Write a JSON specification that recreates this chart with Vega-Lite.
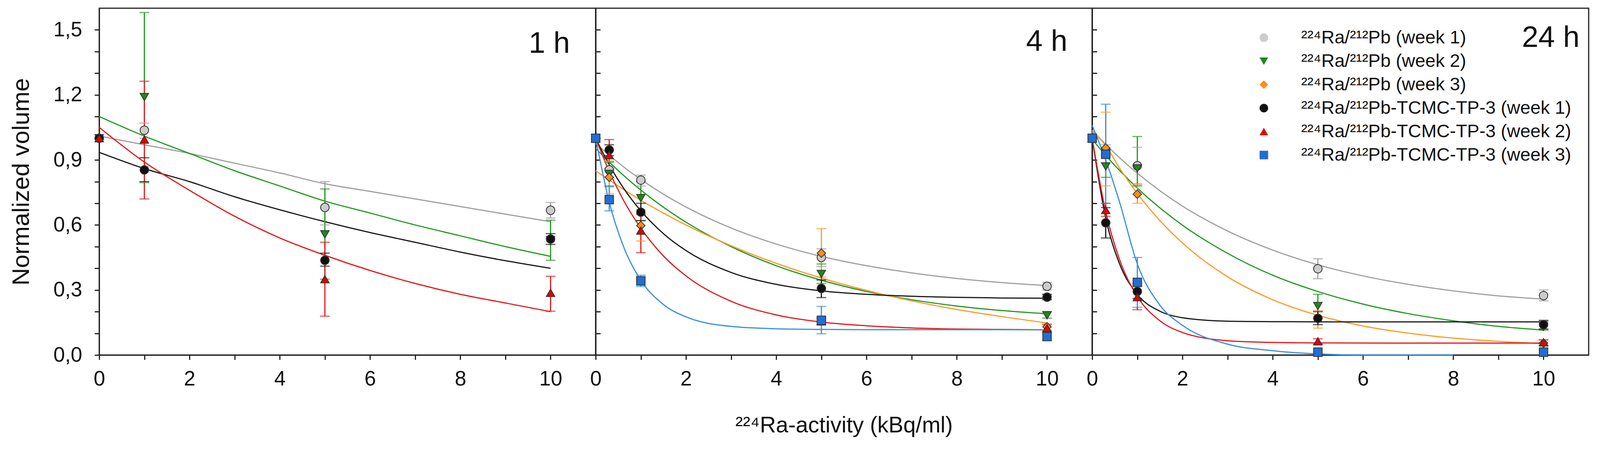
{
  "$schema": "https://vega.github.io/schema/vega-lite/v6.json",
  "description": "Normalized volume vs 224Ra activity at 1 h, 4 h and 24 h",
  "background": "white",
  "padding": {"left": 21, "top": 19, "right": 5, "bottom": 5},
  "config": {
    "font": "Liberation Sans",
    "view": {"stroke": "#222", "strokeWidth": 3},
    "axis": {
      "grid": false,
      "domainColor": "#222",
      "domainWidth": 3,
      "tickColor": "#222",
      "tickWidth": 3,
      "labelFont": "Liberation Sans",
      "labelFontSize": 53,
      "labelColor": "#111",
      "labelFlush": false,
      "labelOverlap": false,
      "titleFont": "Liberation Sans",
      "titleFontWeight": "normal",
      "titleColor": "#111"
    }
  },
  "datasets": {
    "pts": [
      {"p": "1h", "s": "P1", "x": 0, "y": 1.0},
      {"p": "1h", "s": "P1", "x": 1, "y": 1.037, "lo": 1.0, "hi": 1.07},
      {"p": "1h", "s": "P1", "x": 5, "y": 0.681, "lo": 0.6, "hi": 0.8},
      {"p": "1h", "s": "P1", "x": 10, "y": 0.668, "lo": 0.632, "hi": 0.704},
      {"p": "1h", "s": "P2", "x": 0, "y": 1.0},
      {"p": "1h", "s": "P2", "x": 1, "y": 1.19, "lo": 0.795, "hi": 1.58},
      {"p": "1h", "s": "P2", "x": 5, "y": 0.557, "lo": 0.35, "hi": 0.766},
      {"p": "1h", "s": "P2", "x": 10, "y": 0.53, "lo": 0.437, "hi": 0.622},
      {"p": "1h", "s": "T1", "x": 0, "y": 1.0},
      {"p": "1h", "s": "T1", "x": 1, "y": 0.854, "lo": 0.8, "hi": 0.91},
      {"p": "1h", "s": "T1", "x": 5, "y": 0.437, "lo": 0.41, "hi": 0.47},
      {"p": "1h", "s": "T1", "x": 10, "y": 0.535, "lo": 0.51, "hi": 0.56},
      {"p": "1h", "s": "T2", "x": 0, "y": 1.0},
      {"p": "1h", "s": "T2", "x": 1, "y": 0.994, "lo": 0.72, "hi": 1.263},
      {"p": "1h", "s": "T2", "x": 5, "y": 0.35, "lo": 0.179, "hi": 0.52},
      {"p": "1h", "s": "T2", "x": 10, "y": 0.287, "lo": 0.202, "hi": 0.363},

      {"p": "4h", "s": "P1", "x": 0, "y": 1.0},
      {"p": "4h", "s": "P1", "x": 0.3, "y": 0.854, "lo": 0.82, "hi": 0.89},
      {"p": "4h", "s": "P1", "x": 1, "y": 0.807, "lo": 0.78, "hi": 0.83},
      {"p": "4h", "s": "P1", "x": 5, "y": 0.45, "lo": 0.408, "hi": 0.49},
      {"p": "4h", "s": "P1", "x": 10, "y": 0.317, "lo": 0.3, "hi": 0.335},
      {"p": "4h", "s": "P2", "x": 0, "y": 1.0},
      {"p": "4h", "s": "P2", "x": 0.3, "y": 0.835, "lo": 0.78, "hi": 0.89},
      {"p": "4h", "s": "P2", "x": 1, "y": 0.724, "lo": 0.62, "hi": 0.8},
      {"p": "4h", "s": "P2", "x": 5, "y": 0.374, "lo": 0.33, "hi": 0.42},
      {"p": "4h", "s": "P2", "x": 10, "y": 0.183, "lo": 0.17, "hi": 0.2},
      {"p": "4h", "s": "P3", "x": 0, "y": 1.0},
      {"p": "4h", "s": "P3", "x": 0.3, "y": 0.82, "lo": 0.745, "hi": 0.895},
      {"p": "4h", "s": "P3", "x": 1, "y": 0.597, "lo": 0.526, "hi": 0.67},
      {"p": "4h", "s": "P3", "x": 5, "y": 0.47, "lo": 0.36, "hi": 0.583},
      {"p": "4h", "s": "P3", "x": 10, "y": 0.13, "lo": 0.115, "hi": 0.145},
      {"p": "4h", "s": "T1", "x": 0, "y": 1.0},
      {"p": "4h", "s": "T1", "x": 0.3, "y": 0.946, "lo": 0.92, "hi": 0.97},
      {"p": "4h", "s": "T1", "x": 1, "y": 0.659, "lo": 0.62, "hi": 0.7},
      {"p": "4h", "s": "T1", "x": 5, "y": 0.307, "lo": 0.265, "hi": 0.346},
      {"p": "4h", "s": "T1", "x": 10, "y": 0.267, "lo": 0.255, "hi": 0.28},
      {"p": "4h", "s": "T2", "x": 0, "y": 1.0},
      {"p": "4h", "s": "T2", "x": 0.3, "y": 0.922, "lo": 0.86, "hi": 0.994},
      {"p": "4h", "s": "T2", "x": 1, "y": 0.574, "lo": 0.472, "hi": 0.65},
      {"p": "4h", "s": "T2", "x": 5, "y": 0.155, "lo": 0.14, "hi": 0.17},
      {"p": "4h", "s": "T2", "x": 10, "y": 0.124, "lo": 0.11, "hi": 0.14},
      {"p": "4h", "s": "T3", "x": 0, "y": 1.0},
      {"p": "4h", "s": "T3", "x": 0.3, "y": 0.717, "lo": 0.665, "hi": 0.776},
      {"p": "4h", "s": "T3", "x": 1, "y": 0.342, "lo": 0.316, "hi": 0.368},
      {"p": "4h", "s": "T3", "x": 5, "y": 0.16, "lo": 0.098, "hi": 0.224},
      {"p": "4h", "s": "T3", "x": 10, "y": 0.085, "lo": 0.07, "hi": 0.1},

      {"p": "24h", "s": "P1", "x": 0, "y": 1.0},
      {"p": "24h", "s": "P1", "x": 0.3, "y": 0.945, "lo": 0.92, "hi": 0.97},
      {"p": "24h", "s": "P1", "x": 1, "y": 0.873, "lo": 0.79, "hi": 0.958},
      {"p": "24h", "s": "P1", "x": 5, "y": 0.398, "lo": 0.352, "hi": 0.444},
      {"p": "24h", "s": "P1", "x": 10, "y": 0.274, "lo": 0.25, "hi": 0.3},
      {"p": "24h", "s": "P2", "x": 0, "y": 1.0},
      {"p": "24h", "s": "P2", "x": 0.3, "y": 0.87, "lo": 0.82, "hi": 0.92},
      {"p": "24h", "s": "P2", "x": 1, "y": 0.861, "lo": 0.78, "hi": 1.008},
      {"p": "24h", "s": "P2", "x": 5, "y": 0.226, "lo": 0.17, "hi": 0.28},
      {"p": "24h", "s": "P2", "x": 10, "y": 0.13, "lo": 0.115, "hi": 0.155},
      {"p": "24h", "s": "P3", "x": 0, "y": 1.0},
      {"p": "24h", "s": "P3", "x": 0.3, "y": 0.955, "lo": 0.78, "hi": 1.12},
      {"p": "24h", "s": "P3", "x": 1, "y": 0.742, "lo": 0.7, "hi": 0.785},
      {"p": "24h", "s": "P3", "x": 5, "y": 0.17, "lo": 0.124, "hi": 0.205},
      {"p": "24h", "s": "P3", "x": 10, "y": 0.055, "lo": 0.04, "hi": 0.07},
      {"p": "24h", "s": "T1", "x": 0, "y": 1.0},
      {"p": "24h", "s": "T1", "x": 0.3, "y": 0.61, "lo": 0.54, "hi": 0.68},
      {"p": "24h", "s": "T1", "x": 1, "y": 0.293, "lo": 0.26, "hi": 0.33},
      {"p": "24h", "s": "T1", "x": 5, "y": 0.169, "lo": 0.14, "hi": 0.2},
      {"p": "24h", "s": "T1", "x": 10, "y": 0.14, "lo": 0.12, "hi": 0.16},
      {"p": "24h", "s": "T2", "x": 0, "y": 1.0},
      {"p": "24h", "s": "T2", "x": 0.3, "y": 0.669, "lo": 0.64, "hi": 0.7},
      {"p": "24h", "s": "T2", "x": 1, "y": 0.267, "lo": 0.209, "hi": 0.32},
      {"p": "24h", "s": "T2", "x": 5, "y": 0.063, "lo": 0.05, "hi": 0.075},
      {"p": "24h", "s": "T2", "x": 10, "y": 0.059, "lo": 0.045, "hi": 0.07},
      {"p": "24h", "s": "T3", "x": 0, "y": 1.0},
      {"p": "24h", "s": "T3", "x": 0.3, "y": 0.926, "lo": 0.7, "hi": 1.157},
      {"p": "24h", "s": "T3", "x": 1, "y": 0.335, "lo": 0.22, "hi": 0.45},
      {"p": "24h", "s": "T3", "x": 5, "y": 0.013},
      {"p": "24h", "s": "T3", "x": 10, "y": 0.013}
    ],
    "fit": [
      {"p": "1h", "s": "P1", "x": 0, "y": 1.01}, {"p": "1h", "s": "P1", "x": 1, "y": 0.97}, {"p": "1h", "s": "P1", "x": 2, "y": 0.93}, {"p": "1h", "s": "P1", "x": 3, "y": 0.885}, {"p": "1h", "s": "P1", "x": 4, "y": 0.84}, {"p": "1h", "s": "P1", "x": 5, "y": 0.79}, {"p": "1h", "s": "P1", "x": 6, "y": 0.755}, {"p": "1h", "s": "P1", "x": 7, "y": 0.72}, {"p": "1h", "s": "P1", "x": 8, "y": 0.685}, {"p": "1h", "s": "P1", "x": 9, "y": 0.65}, {"p": "1h", "s": "P1", "x": 10, "y": 0.615},
      {"p": "1h", "s": "P2", "x": 0, "y": 1.1}, {"p": "1h", "s": "P2", "x": 1, "y": 1.01}, {"p": "1h", "s": "P2", "x": 2, "y": 0.93}, {"p": "1h", "s": "P2", "x": 3, "y": 0.85}, {"p": "1h", "s": "P2", "x": 4, "y": 0.78}, {"p": "1h", "s": "P2", "x": 5, "y": 0.71}, {"p": "1h", "s": "P2", "x": 6, "y": 0.655}, {"p": "1h", "s": "P2", "x": 7, "y": 0.6}, {"p": "1h", "s": "P2", "x": 8, "y": 0.55}, {"p": "1h", "s": "P2", "x": 9, "y": 0.5}, {"p": "1h", "s": "P2", "x": 10, "y": 0.455},
      {"p": "1h", "s": "T1", "x": 0, "y": 0.935}, {"p": "1h", "s": "T1", "x": 1, "y": 0.86}, {"p": "1h", "s": "T1", "x": 2, "y": 0.8}, {"p": "1h", "s": "T1", "x": 3, "y": 0.73}, {"p": "1h", "s": "T1", "x": 4, "y": 0.67}, {"p": "1h", "s": "T1", "x": 5, "y": 0.615}, {"p": "1h", "s": "T1", "x": 6, "y": 0.565}, {"p": "1h", "s": "T1", "x": 7, "y": 0.52}, {"p": "1h", "s": "T1", "x": 8, "y": 0.475}, {"p": "1h", "s": "T1", "x": 9, "y": 0.435}, {"p": "1h", "s": "T1", "x": 10, "y": 0.4},
      {"p": "1h", "s": "T2", "x": 0, "y": 1.05}, {"p": "1h", "s": "T2", "x": 1, "y": 0.89}, {"p": "1h", "s": "T2", "x": 2, "y": 0.76}, {"p": "1h", "s": "T2", "x": 3, "y": 0.64}, {"p": "1h", "s": "T2", "x": 4, "y": 0.54}, {"p": "1h", "s": "T2", "x": 5, "y": 0.46}, {"p": "1h", "s": "T2", "x": 6, "y": 0.39}, {"p": "1h", "s": "T2", "x": 7, "y": 0.33}, {"p": "1h", "s": "T2", "x": 8, "y": 0.28}, {"p": "1h", "s": "T2", "x": 9, "y": 0.24}, {"p": "1h", "s": "T2", "x": 10, "y": 0.2},

      {"p": "4h", "s": "P1", "x": 0, "y": 0.976}, {"p": "4h", "s": "P1", "x": 0.3, "y": 0.922}, {"p": "4h", "s": "P1", "x": 0.6, "y": 0.871}, {"p": "4h", "s": "P1", "x": 1, "y": 0.81}, {"p": "4h", "s": "P1", "x": 1.5, "y": 0.742}, {"p": "4h", "s": "P1", "x": 2, "y": 0.683}, {"p": "4h", "s": "P1", "x": 3, "y": 0.586}, {"p": "4h", "s": "P1", "x": 4, "y": 0.512}, {"p": "4h", "s": "P1", "x": 5, "y": 0.455}, {"p": "4h", "s": "P1", "x": 6, "y": 0.412}, {"p": "4h", "s": "P1", "x": 7, "y": 0.379}, {"p": "4h", "s": "P1", "x": 8, "y": 0.353}, {"p": "4h", "s": "P1", "x": 9, "y": 0.334}, {"p": "4h", "s": "P1", "x": 10, "y": 0.32},
      {"p": "4h", "s": "P2", "x": 0, "y": 0.953}, {"p": "4h", "s": "P2", "x": 0.3, "y": 0.89}, {"p": "4h", "s": "P2", "x": 0.6, "y": 0.832}, {"p": "4h", "s": "P2", "x": 1, "y": 0.761}, {"p": "4h", "s": "P2", "x": 1.5, "y": 0.682}, {"p": "4h", "s": "P2", "x": 2, "y": 0.613}, {"p": "4h", "s": "P2", "x": 3, "y": 0.5}, {"p": "4h", "s": "P2", "x": 4, "y": 0.412}, {"p": "4h", "s": "P2", "x": 5, "y": 0.345}, {"p": "4h", "s": "P2", "x": 6, "y": 0.293}, {"p": "4h", "s": "P2", "x": 7, "y": 0.255}, {"p": "4h", "s": "P2", "x": 8, "y": 0.226}, {"p": "4h", "s": "P2", "x": 9, "y": 0.205}, {"p": "4h", "s": "P2", "x": 10, "y": 0.19},
      {"p": "4h", "s": "P3", "x": 0, "y": 0.85}, {"p": "4h", "s": "P3", "x": 0.3, "y": 0.807}, {"p": "4h", "s": "P3", "x": 0.6, "y": 0.766}, {"p": "4h", "s": "P3", "x": 1, "y": 0.714}, {"p": "4h", "s": "P3", "x": 1.5, "y": 0.655}, {"p": "4h", "s": "P3", "x": 2, "y": 0.6}, {"p": "4h", "s": "P3", "x": 3, "y": 0.504}, {"p": "4h", "s": "P3", "x": 4, "y": 0.423}, {"p": "4h", "s": "P3", "x": 5, "y": 0.355}, {"p": "4h", "s": "P3", "x": 6, "y": 0.298}, {"p": "4h", "s": "P3", "x": 7, "y": 0.25}, {"p": "4h", "s": "P3", "x": 8, "y": 0.21}, {"p": "4h", "s": "P3", "x": 9, "y": 0.177}, {"p": "4h", "s": "P3", "x": 10, "y": 0.148},
      {"p": "4h", "s": "T1", "x": 0, "y": 1.0}, {"p": "4h", "s": "T1", "x": 0.3, "y": 0.877}, {"p": "4h", "s": "T1", "x": 0.6, "y": 0.775}, {"p": "4h", "s": "T1", "x": 1, "y": 0.665}, {"p": "4h", "s": "T1", "x": 1.5, "y": 0.56}, {"p": "4h", "s": "T1", "x": 2, "y": 0.482}, {"p": "4h", "s": "T1", "x": 3, "y": 0.381}, {"p": "4h", "s": "T1", "x": 4, "y": 0.326}, {"p": "4h", "s": "T1", "x": 5, "y": 0.296}, {"p": "4h", "s": "T1", "x": 6, "y": 0.28}, {"p": "4h", "s": "T1", "x": 7, "y": 0.271}, {"p": "4h", "s": "T1", "x": 8, "y": 0.266}, {"p": "4h", "s": "T1", "x": 9, "y": 0.263}, {"p": "4h", "s": "T1", "x": 10, "y": 0.262},
      {"p": "4h", "s": "T2", "x": 0, "y": 1.0}, {"p": "4h", "s": "T2", "x": 0.3, "y": 0.847}, {"p": "4h", "s": "T2", "x": 0.6, "y": 0.72}, {"p": "4h", "s": "T2", "x": 1, "y": 0.585}, {"p": "4h", "s": "T2", "x": 1.5, "y": 0.457}, {"p": "4h", "s": "T2", "x": 2, "y": 0.365}, {"p": "4h", "s": "T2", "x": 3, "y": 0.248}, {"p": "4h", "s": "T2", "x": 4, "y": 0.185}, {"p": "4h", "s": "T2", "x": 5, "y": 0.152}, {"p": "4h", "s": "T2", "x": 6, "y": 0.135}, {"p": "4h", "s": "T2", "x": 7, "y": 0.125}, {"p": "4h", "s": "T2", "x": 8, "y": 0.12}, {"p": "4h", "s": "T2", "x": 9, "y": 0.118}, {"p": "4h", "s": "T2", "x": 10, "y": 0.116},
      {"p": "4h", "s": "T3", "x": 0, "y": 1.0}, {"p": "4h", "s": "T3", "x": 0.3, "y": 0.705}, {"p": "4h", "s": "T3", "x": 0.6, "y": 0.509}, {"p": "4h", "s": "T3", "x": 1, "y": 0.345}, {"p": "4h", "s": "T3", "x": 1.5, "y": 0.233}, {"p": "4h", "s": "T3", "x": 2, "y": 0.176}, {"p": "4h", "s": "T3", "x": 3, "y": 0.132}, {"p": "4h", "s": "T3", "x": 4, "y": 0.121}, {"p": "4h", "s": "T3", "x": 5, "y": 0.118}, {"p": "4h", "s": "T3", "x": 6, "y": 0.117}, {"p": "4h", "s": "T3", "x": 8, "y": 0.117}, {"p": "4h", "s": "T3", "x": 10, "y": 0.117},

      {"p": "24h", "s": "P1", "x": 0, "y": 1.037}, {"p": "24h", "s": "P1", "x": 0.3, "y": 0.972}, {"p": "24h", "s": "P1", "x": 0.6, "y": 0.911}, {"p": "24h", "s": "P1", "x": 1, "y": 0.839}, {"p": "24h", "s": "P1", "x": 1.5, "y": 0.758}, {"p": "24h", "s": "P1", "x": 2, "y": 0.687}, {"p": "24h", "s": "P1", "x": 3, "y": 0.572}, {"p": "24h", "s": "P1", "x": 4, "y": 0.484}, {"p": "24h", "s": "P1", "x": 5, "y": 0.416}, {"p": "24h", "s": "P1", "x": 6, "y": 0.365}, {"p": "24h", "s": "P1", "x": 7, "y": 0.326}, {"p": "24h", "s": "P1", "x": 8, "y": 0.296}, {"p": "24h", "s": "P1", "x": 9, "y": 0.273}, {"p": "24h", "s": "P1", "x": 10, "y": 0.258},
      {"p": "24h", "s": "P2", "x": 0, "y": 0.995}, {"p": "24h", "s": "P2", "x": 0.3, "y": 0.921}, {"p": "24h", "s": "P2", "x": 0.6, "y": 0.853}, {"p": "24h", "s": "P2", "x": 1, "y": 0.77}, {"p": "24h", "s": "P2", "x": 1.5, "y": 0.679}, {"p": "24h", "s": "P2", "x": 2, "y": 0.599}, {"p": "24h", "s": "P2", "x": 3, "y": 0.469}, {"p": "24h", "s": "P2", "x": 4, "y": 0.368}, {"p": "24h", "s": "P2", "x": 5, "y": 0.293}, {"p": "24h", "s": "P2", "x": 6, "y": 0.235}, {"p": "24h", "s": "P2", "x": 7, "y": 0.191}, {"p": "24h", "s": "P2", "x": 8, "y": 0.158}, {"p": "24h", "s": "P2", "x": 9, "y": 0.132}, {"p": "24h", "s": "P2", "x": 10, "y": 0.115},
      {"p": "24h", "s": "P3", "x": 0, "y": 1.03}, {"p": "24h", "s": "P3", "x": 0.3, "y": 0.966}, {"p": "24h", "s": "P3", "x": 0.6, "y": 0.864}, {"p": "24h", "s": "P3", "x": 1, "y": 0.745}, {"p": "24h", "s": "P3", "x": 1.5, "y": 0.62}, {"p": "24h", "s": "P3", "x": 2, "y": 0.517}, {"p": "24h", "s": "P3", "x": 3, "y": 0.361}, {"p": "24h", "s": "P3", "x": 4, "y": 0.255}, {"p": "24h", "s": "P3", "x": 5, "y": 0.183}, {"p": "24h", "s": "P3", "x": 6, "y": 0.134}, {"p": "24h", "s": "P3", "x": 7, "y": 0.101}, {"p": "24h", "s": "P3", "x": 8, "y": 0.078}, {"p": "24h", "s": "P3", "x": 9, "y": 0.063}, {"p": "24h", "s": "P3", "x": 10, "y": 0.052},
      {"p": "24h", "s": "T1", "x": 0, "y": 1.0}, {"p": "24h", "s": "T1", "x": 0.3, "y": 0.632}, {"p": "24h", "s": "T1", "x": 0.6, "y": 0.424}, {"p": "24h", "s": "T1", "x": 1, "y": 0.28}, {"p": "24h", "s": "T1", "x": 1.5, "y": 0.202}, {"p": "24h", "s": "T1", "x": 2, "y": 0.172}, {"p": "24h", "s": "T1", "x": 3, "y": 0.156}, {"p": "24h", "s": "T1", "x": 4, "y": 0.154}, {"p": "24h", "s": "T1", "x": 5, "y": 0.153}, {"p": "24h", "s": "T1", "x": 7, "y": 0.153}, {"p": "24h", "s": "T1", "x": 10, "y": 0.153},
      {"p": "24h", "s": "T2", "x": 0, "y": 1.0}, {"p": "24h", "s": "T2", "x": 0.3, "y": 0.661}, {"p": "24h", "s": "T2", "x": 0.6, "y": 0.444}, {"p": "24h", "s": "T2", "x": 1, "y": 0.27}, {"p": "24h", "s": "T2", "x": 1.5, "y": 0.158}, {"p": "24h", "s": "T2", "x": 2, "y": 0.104}, {"p": "24h", "s": "T2", "x": 3, "y": 0.066}, {"p": "24h", "s": "T2", "x": 4, "y": 0.058}, {"p": "24h", "s": "T2", "x": 5, "y": 0.056}, {"p": "24h", "s": "T2", "x": 7, "y": 0.055}, {"p": "24h", "s": "T2", "x": 10, "y": 0.055},
      {"p": "24h", "s": "T3", "x": 0, "y": 1.06}, {"p": "24h", "s": "T3", "x": 0.3, "y": 0.9}, {"p": "24h", "s": "T3", "x": 0.6, "y": 0.71}, {"p": "24h", "s": "T3", "x": 1, "y": 0.42}, {"p": "24h", "s": "T3", "x": 1.5, "y": 0.23}, {"p": "24h", "s": "T3", "x": 2, "y": 0.137}, {"p": "24h", "s": "T3", "x": 3, "y": 0.05}, {"p": "24h", "s": "T3", "x": 4, "y": 0.02}, {"p": "24h", "s": "T3", "x": 5, "y": 0.005}, {"p": "24h", "s": "T3", "x": 6, "y": 0.0}, {"p": "24h", "s": "T3", "x": 8, "y": 0.0}
    ],
    "tags": [
      {"p": "1h", "x": 10.43, "y": 1.395, "t": "1 h"},
      {"p": "4h", "x": 10.45, "y": 1.403, "t": "4 h"},
      {"p": "24h", "x": 10.8, "y": 1.421, "t": "24 h"}
    ]
  },
  "spacing": 0,
  "bounds": "flush",
  "resolve": {
    "scale": {"fill": "independent", "shape": "independent", "stroke": "independent", "color": "independent"},
    "legend": {"fill": "independent", "shape": "independent", "stroke": "independent", "color": "independent"}
  },
  "hconcat": [
    {
      "width": 1271,
      "height": 887,
      "encoding": {
        "x": {
          "field": "x", "type": "quantitative",
          "scale": {"domain": [0, 11], "nice": false, "zero": false},
          "axis": {"values": [0, 1, 2, 3, 4, 5, 6, 7, 8, 9, 10], "labelExpr": "datum.value % 2 == 0 ? datum.label : ''", "tickSize": 12, "labelPadding": 23, "title": null}
        },
        "y": {
          "field": "y", "type": "quantitative",
          "scale": {"domain": [0, 1.6], "nice": false, "zero": false},
          "axis": {
            "values": [0, 0.1, 0.2, 0.3, 0.4, 0.5, 0.6, 0.7, 0.8, 0.9, 1.0, 1.1, 1.2, 1.3, 1.4, 1.5],
            "labelExpr": "round(datum.value * 10) % 3 == 0 ? replace(format(datum.value, '.1f'), '.', ',') : ''",
            "tickSize": 12, "labelPadding": 32,
            "title": "Normalized volume", "titleFontSize": 62, "titlePadding": 50
          }
        }
      },
      "layer": [
        {
          "data": {"name": "fit"},
          "transform": [{"filter": "datum.p == '1h'"}],
          "mark": {"type": "line", "strokeWidth": 3, "interpolate": "monotone"},
          "encoding": {
            "stroke": {"field": "s", "type": "nominal", "legend": null,
              "scale": {"domain": ["T3", "T2", "T1", "P3", "P2", "P1"], "range": ["#3a8fe3", "#e31a1c", "#1a1a1a", "#ff9a2a", "#229a22", "#a0a0a0"]}}
          }
        },
        {
          "data": {"name": "pts"},
          "transform": [{"filter": "datum.p == '1h' && isValid(datum.lo)"}],
          "mark": {"type": "rule", "strokeWidth": 3},
          "encoding": {
            "y": {"field": "lo", "type": "quantitative", "scale": {"domain": [0, 1.6], "nice": false, "zero": false},
              "axis": {
                "values": [0, 0.1, 0.2, 0.3, 0.4, 0.5, 0.6, 0.7, 0.8, 0.9, 1.0, 1.1, 1.2, 1.3, 1.4, 1.5],
                "labelExpr": "round(datum.value * 10) % 3 == 0 ? replace(format(datum.value, '.1f'), '.', ',') : ''",
                "tickSize": 12, "labelPadding": 32,
                "title": "Normalized volume", "titleFontSize": 62, "titlePadding": 50
              }},
            "y2": {"field": "hi"},
            "stroke": {"field": "s", "type": "nominal", "legend": null,
              "scale": {"domain": ["T3", "T2", "T1", "P3", "P2", "P1"], "range": ["#3a8fe3", "#e31a1c", "#1a1a1a", "#ff9a2a", "#229a22", "#a0a0a0"]}}
          }
        },
        {
          "data": {"name": "pts"},
          "transform": [{"filter": "datum.p == '1h' && isValid(datum.lo)"}, {"fold": ["lo", "hi"], "as": ["end", "v"]}],
          "mark": {"type": "tick", "orient": "horizontal", "thickness": 3},
          "encoding": {
            "y": {"field": "v", "type": "quantitative", "scale": {"domain": [0, 1.6], "nice": false, "zero": false},
              "axis": {
                "values": [0, 0.1, 0.2, 0.3, 0.4, 0.5, 0.6, 0.7, 0.8, 0.9, 1.0, 1.1, 1.2, 1.3, 1.4, 1.5],
                "labelExpr": "round(datum.value * 10) % 3 == 0 ? replace(format(datum.value, '.1f'), '.', ',') : ''",
                "tickSize": 12, "labelPadding": 32,
                "title": "Normalized volume", "titleFontSize": 62, "titlePadding": 50
              }},
            "size": {"value": 25},
            "color": {"field": "s", "type": "nominal", "legend": null,
              "scale": {"domain": ["T3", "T2", "T1", "P3", "P2", "P1"], "range": ["#3a8fe3", "#e31a1c", "#1a1a1a", "#ff9a2a", "#229a22", "#a0a0a0"]}}
          }
        },
        {
          "data": {"name": "pts"},
          "transform": [{"filter": "datum.p == '1h'"}],
          "mark": {"type": "point", "filled": true, "stroke": "#333", "strokeWidth": 2, "size": 480, "opacity": 1},
          "encoding": {
            "fill": {"field": "s", "type": "nominal", "legend": null,
              "scale": {"domain": ["P1", "P2", "P3", "T1", "T2", "T3"], "range": ["#cccccc", "#1b8a1b", "#ff8c1a", "#111111", "#e60000", "#1f6fd6"]}},
            "shape": {"field": "s", "type": "nominal", "legend": null,
              "scale": {"domain": ["P1", "P2", "P3", "T1", "T2", "T3"], "range": ["circle", "triangle-down", "diamond", "circle", "triangle-up", "square"]}}
          }
        },
        {
          "data": {"name": "tags"},
          "transform": [{"filter": "datum.p == '1h'"}],
          "mark": {"type": "text", "align": "right", "baseline": "alphabetic", "fontSize": 76, "color": "#111"},
          "encoding": {"text": {"field": "t"}}
        }
      ]
    },
    {
      "width": 1271,
      "height": 887,
      "encoding": {
        "x": {
          "field": "x", "type": "quantitative",
          "scale": {"domain": [0, 11], "nice": false, "zero": false},
          "axis": {"values": [0, 1, 2, 3, 4, 5, 6, 7, 8, 9, 10], "labelExpr": "datum.value % 2 == 0 ? datum.label : ''", "tickSize": 12, "labelPadding": 23,
            "title": "²²⁴Ra-activity (kBq/ml)", "titleFontSize": 57, "titlePadding": 64}
        },
        "y": {
          "field": "y", "type": "quantitative",
          "scale": {"domain": [0, 1.6], "nice": false, "zero": false},
          "axis": {"values": [0.1, 0.2, 0.3, 0.4, 0.5, 0.6, 0.7, 0.8, 0.9, 1.0, 1.1, 1.2, 1.3, 1.4, 1.5], "labels": false, "tickSize": -12, "title": null}
        }
      },
      "layer": [
        {
          "data": {"name": "fit"},
          "transform": [{"filter": "datum.p == '4h'"}],
          "mark": {"type": "line", "strokeWidth": 3, "interpolate": "monotone"},
          "encoding": {
            "stroke": {"field": "s", "type": "nominal", "legend": null,
              "scale": {"domain": ["T3", "T2", "T1", "P3", "P2", "P1"], "range": ["#3a8fe3", "#e31a1c", "#1a1a1a", "#ff9a2a", "#229a22", "#a0a0a0"]}}
          }
        },
        {
          "data": {"name": "pts"},
          "transform": [{"filter": "datum.p == '4h' && isValid(datum.lo)"}],
          "mark": {"type": "rule", "strokeWidth": 3},
          "encoding": {
            "y": {"field": "lo", "type": "quantitative", "scale": {"domain": [0, 1.6], "nice": false, "zero": false},
              "axis": {"values": [0.1, 0.2, 0.3, 0.4, 0.5, 0.6, 0.7, 0.8, 0.9, 1.0, 1.1, 1.2, 1.3, 1.4, 1.5], "labels": false, "tickSize": -12, "title": null}},
            "y2": {"field": "hi"},
            "stroke": {"field": "s", "type": "nominal", "legend": null,
              "scale": {"domain": ["T3", "T2", "T1", "P3", "P2", "P1"], "range": ["#3a8fe3", "#e31a1c", "#1a1a1a", "#ff9a2a", "#229a22", "#a0a0a0"]}}
          }
        },
        {
          "data": {"name": "pts"},
          "transform": [{"filter": "datum.p == '4h' && isValid(datum.lo)"}, {"fold": ["lo", "hi"], "as": ["end", "v"]}],
          "mark": {"type": "tick", "orient": "horizontal", "thickness": 3},
          "encoding": {
            "y": {"field": "v", "type": "quantitative", "scale": {"domain": [0, 1.6], "nice": false, "zero": false},
              "axis": {"values": [0.1, 0.2, 0.3, 0.4, 0.5, 0.6, 0.7, 0.8, 0.9, 1.0, 1.1, 1.2, 1.3, 1.4, 1.5], "labels": false, "tickSize": -12, "title": null}},
            "size": {"value": 25},
            "color": {"field": "s", "type": "nominal", "legend": null,
              "scale": {"domain": ["T3", "T2", "T1", "P3", "P2", "P1"], "range": ["#3a8fe3", "#e31a1c", "#1a1a1a", "#ff9a2a", "#229a22", "#a0a0a0"]}}
          }
        },
        {
          "data": {"name": "pts"},
          "transform": [{"filter": "datum.p == '4h'"}],
          "mark": {"type": "point", "filled": true, "stroke": "#333", "strokeWidth": 2, "size": 480, "opacity": 1},
          "encoding": {
            "fill": {"field": "s", "type": "nominal", "legend": null,
              "scale": {"domain": ["P1", "P2", "P3", "T1", "T2", "T3"], "range": ["#cccccc", "#1b8a1b", "#ff8c1a", "#111111", "#e60000", "#1f6fd6"]}},
            "shape": {"field": "s", "type": "nominal", "legend": null,
              "scale": {"domain": ["P1", "P2", "P3", "T1", "T2", "T3"], "range": ["circle", "triangle-down", "diamond", "circle", "triangle-up", "square"]}}
          }
        },
        {
          "data": {"name": "tags"},
          "transform": [{"filter": "datum.p == '4h'"}],
          "mark": {"type": "text", "align": "right", "baseline": "alphabetic", "fontSize": 76, "color": "#111"},
          "encoding": {"text": {"field": "t"}}
        }
      ]
    },
    {
      "width": 1271,
      "height": 887,
      "encoding": {
        "x": {
          "field": "x", "type": "quantitative",
          "scale": {"domain": [0, 11], "nice": false, "zero": false},
          "axis": {"values": [0, 1, 2, 3, 4, 5, 6, 7, 8, 9, 10], "labelExpr": "datum.value % 2 == 0 ? datum.label : ''", "tickSize": 12, "labelPadding": 23, "title": null}
        },
        "y": {
          "field": "y", "type": "quantitative",
          "scale": {"domain": [0, 1.6], "nice": false, "zero": false},
          "axis": {"values": [0.1, 0.2, 0.3, 0.4, 0.5, 0.6, 0.7, 0.8, 0.9, 1.0, 1.1, 1.2, 1.3, 1.4, 1.5], "labels": false, "tickSize": -12, "title": null}
        }
      },
      "layer": [
        {
          "data": {"name": "fit"},
          "transform": [{"filter": "datum.p == '24h'"}],
          "mark": {"type": "line", "strokeWidth": 3, "interpolate": "monotone"},
          "encoding": {
            "stroke": {"field": "s", "type": "nominal", "legend": null,
              "scale": {"domain": ["T3", "T2", "T1", "P3", "P2", "P1"], "range": ["#3a8fe3", "#e31a1c", "#1a1a1a", "#ff9a2a", "#229a22", "#a0a0a0"]}}
          }
        },
        {
          "data": {"name": "pts"},
          "transform": [{"filter": "datum.p == '24h' && isValid(datum.lo)"}],
          "mark": {"type": "rule", "strokeWidth": 3},
          "encoding": {
            "y": {"field": "lo", "type": "quantitative", "scale": {"domain": [0, 1.6], "nice": false, "zero": false},
              "axis": {"values": [0.1, 0.2, 0.3, 0.4, 0.5, 0.6, 0.7, 0.8, 0.9, 1.0, 1.1, 1.2, 1.3, 1.4, 1.5], "labels": false, "tickSize": -12, "title": null}},
            "y2": {"field": "hi"},
            "stroke": {"field": "s", "type": "nominal", "legend": null,
              "scale": {"domain": ["T3", "T2", "T1", "P3", "P2", "P1"], "range": ["#3a8fe3", "#e31a1c", "#1a1a1a", "#ff9a2a", "#229a22", "#a0a0a0"]}}
          }
        },
        {
          "data": {"name": "pts"},
          "transform": [{"filter": "datum.p == '24h' && isValid(datum.lo)"}, {"fold": ["lo", "hi"], "as": ["end", "v"]}],
          "mark": {"type": "tick", "orient": "horizontal", "thickness": 3},
          "encoding": {
            "y": {"field": "v", "type": "quantitative", "scale": {"domain": [0, 1.6], "nice": false, "zero": false},
              "axis": {"values": [0.1, 0.2, 0.3, 0.4, 0.5, 0.6, 0.7, 0.8, 0.9, 1.0, 1.1, 1.2, 1.3, 1.4, 1.5], "labels": false, "tickSize": -12, "title": null}},
            "size": {"value": 25},
            "color": {"field": "s", "type": "nominal", "legend": null,
              "scale": {"domain": ["T3", "T2", "T1", "P3", "P2", "P1"], "range": ["#3a8fe3", "#e31a1c", "#1a1a1a", "#ff9a2a", "#229a22", "#a0a0a0"]}}
          }
        },
        {
          "data": {"name": "pts"},
          "transform": [{"filter": "datum.p == '24h'"}],
          "mark": {"type": "point", "filled": true, "stroke": "#333", "strokeWidth": 2, "size": 480, "opacity": 1},
          "encoding": {
            "fill": {"field": "s", "type": "nominal",
              "scale": {"domain": ["P1", "P2", "P3", "T1", "T2", "T3"], "range": ["#cccccc", "#1b8a1b", "#ff8c1a", "#111111", "#e60000", "#1f6fd6"]},
              "legend": {"orient": "none", "legendX": 416, "legendY": 52, "title": null, "padding": 0,
                "labelExpr": "datum.label == 'P1' ? '²²⁴Ra/²¹²Pb (week 1)' : datum.label == 'P2' ? '²²⁴Ra/²¹²Pb (week 2)' : datum.label == 'P3' ? '²²⁴Ra/²¹²Pb (week 3)' : datum.label == 'T1' ? '²²⁴Ra/²¹²Pb-TCMC-TP-3 (week 1)' : datum.label == 'T2' ? '²²⁴Ra/²¹²Pb-TCMC-TP-3 (week 2)' : '²²⁴Ra/²¹²Pb-TCMC-TP-3 (week 3)'",
                "labelFontSize": 47, "labelFont": "Liberation Sans", "labelColor": "#111", "labelLimit": 2000, "labelOffset": 72,
                "symbolSize": 480, "symbolStrokeColor": "#333", "symbolStrokeWidth": 2, "rowPadding": 12}},
            "shape": {"field": "s", "type": "nominal",
              "scale": {"domain": ["P1", "P2", "P3", "T1", "T2", "T3"], "range": ["circle", "triangle-down", "diamond", "circle", "triangle-up", "square"]},
              "legend": {"orient": "none", "legendX": 416, "legendY": 52, "title": null, "padding": 0,
                "labelExpr": "datum.label == 'P1' ? '²²⁴Ra/²¹²Pb (week 1)' : datum.label == 'P2' ? '²²⁴Ra/²¹²Pb (week 2)' : datum.label == 'P3' ? '²²⁴Ra/²¹²Pb (week 3)' : datum.label == 'T1' ? '²²⁴Ra/²¹²Pb-TCMC-TP-3 (week 1)' : datum.label == 'T2' ? '²²⁴Ra/²¹²Pb-TCMC-TP-3 (week 2)' : '²²⁴Ra/²¹²Pb-TCMC-TP-3 (week 3)'",
                "labelFontSize": 47, "labelFont": "Liberation Sans", "labelColor": "#111", "labelLimit": 2000, "labelOffset": 72,
                "symbolSize": 480, "symbolStrokeColor": "#333", "symbolStrokeWidth": 2, "rowPadding": 12}}
          }
        },
        {
          "data": {"name": "tags"},
          "transform": [{"filter": "datum.p == '24h'"}],
          "mark": {"type": "text", "align": "right", "baseline": "alphabetic", "fontSize": 76, "color": "#111"},
          "encoding": {"text": {"field": "t"}}
        }
      ]
    }
  ]
}
